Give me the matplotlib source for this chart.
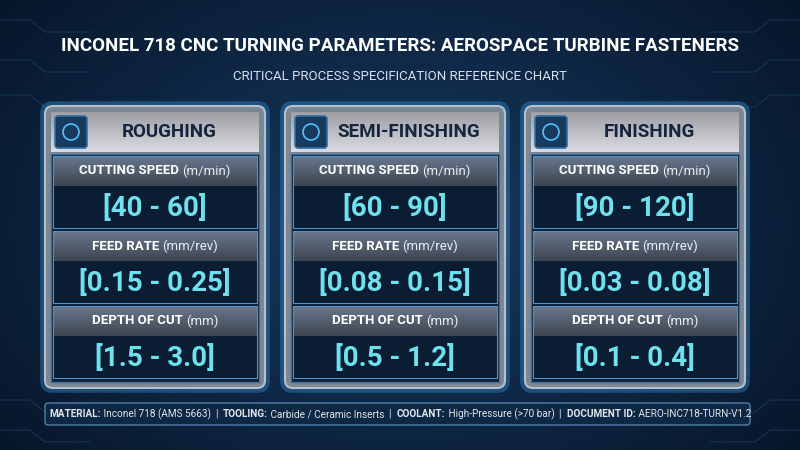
import numpy as np
import matplotlib.pyplot as plt
from matplotlib.patches import FancyBboxPatch, Rectangle

plt.rcParams['font.family'] = ['Roboto', 'DejaVu Sans']

title = "INCONEL 718 CNC TURNING PARAMETERS: AEROSPACE TURBINE FASTENERS"
subtitle = "CRITICAL PROCESS SPECIFICATION REFERENCE CHART"
stages = ["ROUGHING", "SEMI-FINISHING", "FINISHING"]
param_names = ["CUTTING SPEED", "FEED RATE", "DEPTH OF CUT"]
param_units = ["(m/min)", "(mm/rev)", "(mm)"]
ranges = [
    ["[40 - 60]", "[0.15 - 0.25]", "[1.5 - 3.0]"],
    ["[60 - 90]", "[0.08 - 0.15]", "[0.5 - 1.2]"],
    ["[90 - 120]", "[0.03 - 0.08]", "[0.1 - 0.4]"],
]
footer = [("MATERIAL:", "Inconel 718 (AMS 5663)"), ("TOOLING:", "Carbide / Ceramic Inserts"),
          ("COOLANT:", "High-Pressure (>70 bar)"), ("DOCUMENT ID:", "AERO-INC718-TURN-V1.2")]

fig = plt.figure(figsize=(8, 4.5), dpi=100)
ax = fig.add_axes([0, 0, 1, 1])
ax.set_xlim(0, 800)
ax.set_ylim(450, 0)
ax.axis('off')
fig.canvas.draw()
renderer = fig.canvas.get_renderer()


def centered_run(parts, xc, y, color, fontsize, zorder):
    # place several text pieces side by side, centred on xc
    texts = [ax.text(0, y, s, color=c or color, fontsize=fontsize, fontweight=w,
                     ha='left', va='center', zorder=zorder) for s, w, c in parts]
    widths = [t.get_window_extent(renderer).width for t in texts]
    xpos = xc - sum(widths) / 2
    for t, w in zip(texts, widths):
        t.set_x(xpos)
        xpos += w


# background gradient
yy, xx = np.mgrid[0:450, 0:800]
r = np.sqrt(((xx - 400) / 500) ** 2 + ((yy - 225) / 350) ** 2)
bg = np.clip(1 - r, 0, 1)
img = np.dstack([0.03 + 0.06 * bg, 0.09 + 0.14 * bg, 0.17 + 0.22 * bg])
ax.imshow(img, extent=(0, 800, 450, 0), zorder=0)

# faint circuit lines
for y0 in [20, 60, 95, 400, 430]:
    ax.plot([0, 30, 45, 90], [y0, y0, y0 + 12, y0 + 12], color='#2a5a88', lw=0.6, alpha=0.5, zorder=1)
    ax.plot([800, 770, 755, 710], [y0, y0, y0 + 12, y0 + 12], color='#2a5a88', lw=0.6, alpha=0.5, zorder=1)

ax.text(400, 46, title, color='white', fontsize=13.5, fontweight='bold', ha='center', va='center')
ax.text(400, 77, subtitle, color='#d8e2ee', fontsize=9.5, ha='center', va='center')

panel_x = [45, 285, 525]
pw = 220
for i, stage in enumerate(stages):
    x0 = panel_x[i]
    # glow + frame
    ax.add_patch(FancyBboxPatch((x0 - 2, 104), pw + 4, 286, boxstyle="round,pad=0,rounding_size=9",
                                fc='none', ec='#2f86c8', lw=4, alpha=0.45, zorder=2))
    ax.add_patch(FancyBboxPatch((x0, 106), pw, 282, boxstyle="round,pad=0,rounding_size=8",
                                fc='#7d8794', ec='#b7c0ca', lw=1.5, zorder=2))
    ax.add_patch(Rectangle((x0 + 6, 154), pw - 12, 228, fc='#0a1d33', ec='#3a6f9e', lw=1, zorder=3))
    # header metallic
    hdr = np.tile(np.linspace(0.62, 0.85, 40)[:, None], (1, 10))
    ax.imshow(np.dstack([hdr, hdr * 1.01, hdr * 1.04]).clip(0, 1),
              extent=(x0 + 6, x0 + pw - 6, 152, 112), zorder=3, aspect='auto')
    ax.add_patch(FancyBboxPatch((x0 + 10, 116), 32, 32, boxstyle="round,pad=0,rounding_size=3",
                                fc='#173a5e', ec='#2d6fa5', lw=1.2, zorder=4))
    ax.add_patch(plt.Circle((x0 + 26, 132), 8, fc='none', ec='#4fb8ee', lw=1.3, zorder=5))
    ax.text(x0 + pw / 2 + 14, 132, stage, color='#14263f', fontsize=13.5, fontweight='bold',
            ha='center', va='center', zorder=5)
    row_tops = [156, 231, 306]
    for j in range(3):
        ty = row_tops[j]
        lab = np.tile(np.linspace(0.55, 0.32, 30)[:, None], (1, 10))
        ax.imshow(np.dstack([lab * 0.75, lab * 0.85, lab]).clip(0, 1),
                  extent=(x0 + 8, x0 + pw - 8, ty + 30, ty), zorder=4, aspect='auto')
        ax.add_patch(Rectangle((x0 + 8, ty), pw - 16, 72, fc='none', ec='#4f93c8', lw=0.8, zorder=5))
        centered_run([(param_names[j] + " ", 'bold', 'white'), (param_units[j], 'normal', '#e8eef5')],
                     x0 + pw / 2, ty + 15, 'white', 9.5, 6)
        ax.text(x0 + pw / 2, ty + 52, ranges[i][j], color='#6fe0ee', fontsize=20,
                fontweight='bold', ha='center', va='center', zorder=6)

# footer bar
ax.add_patch(FancyBboxPatch((45, 403), 705, 22, boxstyle="round,pad=0,rounding_size=3",
                            fc='#0e2742', ec='#4f7fa8', lw=1, zorder=2))
parts = []
for k, (key, val) in enumerate(footer):
    parts.append((key, 'bold', None))
    parts.append((" " + val, 'normal', None))
    if k < len(footer) - 1:
        parts.append(("  |  ", 'normal', None))
centered_run(parts, 400, 414, '#e0e6ee', 7.2, 3)

fig.savefig('out.png', dpi=100)
